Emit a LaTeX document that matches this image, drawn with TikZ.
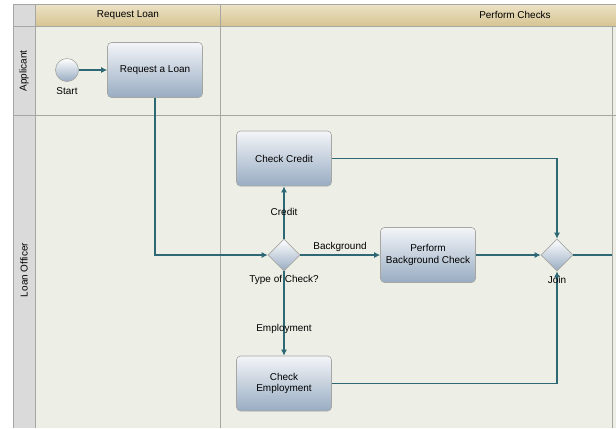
\documentclass[tikz,border=0pt]{standalone}
\usepackage{fontspec}
\setmainfont{Liberation Sans}
\usetikzlibrary{shapes.geometric,arrows.meta}
\definecolor{flow}{HTML}{2E6874}
\definecolor{lanebg}{HTML}{EDEFE6}
\definecolor{headtop}{HTML}{ECE2C6}
\definecolor{headbot}{HTML}{D6C492}
\definecolor{sidehead}{HTML}{DADADA}
\definecolor{grid}{HTML}{A6A6A2}
\definecolor{tasktop}{HTML}{F3F5F8}
\definecolor{taskmid}{HTML}{B8C6D5}
\definecolor{taskbot}{HTML}{98ACC2}

\begin{document}
\begin{tikzpicture}[x=1bp,y=-1bp,font=\fontsize{10}{11.5}\selectfont]
        \useasboundingbox (0,0) rectangle (616,428);
        % pool and lanes
        \fill[lanebg] (13,4) rectangle (616,428);
        \shade[top color=headtop,bottom color=headbot] (35,4) rectangle (616,26);
        \fill[sidehead] (13,4) rectangle (35,428);
        \begin{scope}[grid,line width=0.8bp]
            \draw (13,4) -- (616,4);
            \draw (13,26) -- (616,26);
            \draw (13,115) -- (616,115);
            \draw (13,4) -- (13,428);
            \draw (35,4) -- (35,428);
            \draw (220,4) -- (220,428);
            \draw (612,26) -- (612,428);
        \end{scope}
        \node (hReq) at (128,15) {Request Loan};
        \node (hChk) at (515,15) {Perform Checks};
        \node[rotate=90] (lApp) at (24,71) {Applicant};
        \node[rotate=90] (lOff) at (24,270) {Loan Officer};

        \begin{scope}[
            every node/.style={draw=grid,line width=0.6bp}
        ]
            \node[circle,minimum size=23bp,inner sep=0pt,
                  top color=white,bottom color=taskbot] (start) at (67,70) {};

            \node[diamond,minimum size=32bp,inner sep=0pt,
                  top color=white,bottom color=taskbot] (type) at (284,255) {};
            \node[diamond,minimum size=32bp,inner sep=0pt,
                  top color=white,bottom color=taskbot] (join) at (557,255) {};
        \end{scope}
        \begin{scope}[
            every node/.style={draw=grid,line width=0.6bp,rounded corners=4bp,
                align=center,minimum width=95bp,minimum height=55bp,
                top color=tasktop,middle color=taskmid,bottom color=taskbot}
        ]
            \node (request) at (155,70) {Request a Loan};
            \node (credit) at (284,158.5) {Check Credit};
            \node (bgcheck) at (428,255) {Perform\\Background Check};
            \node (employ) at (284,383.5) {Check\\Employment};
        \end{scope}
        \coordinate (out) at (612,255);

        \begin{scope}[
            every edge/.style={draw=flow,line width=1.6bp},
            >={Latex[length=6bp,width=6bp]}
        ]
            \path [->] (start) edge (request);
            \path [->] (request.south) edge[to path={|- (\tikztotarget)}] (type.west);
            \path [->] (type.north) edge (credit.south);
            \path [->] (type.east) edge (bgcheck.west);
            \path [->] (type.south) edge (employ.north);
            \path [->] (credit.east) edge[to path={-| (\tikztotarget)}] (join.north);
            \path [->] (bgcheck.east) edge (join.west);
            \path [->] (employ.east) edge[to path={-| (\tikztotarget)}] (join.south);
            \path [-] (join.east) edge (out);
        \end{scope}

        \node (sLbl) at (67,91) {Start};
        \node (tLbl) at (284,280) {Type of Check?};
        \node (jLbl) at (557,280) {Join};
        \node (cLbl) at (284,212) {Credit};
        \node (bLbl) at (340,247) {Background};
        \node (eLbl) at (284,329) {Employment};
    \end{tikzpicture}
\end{document}
